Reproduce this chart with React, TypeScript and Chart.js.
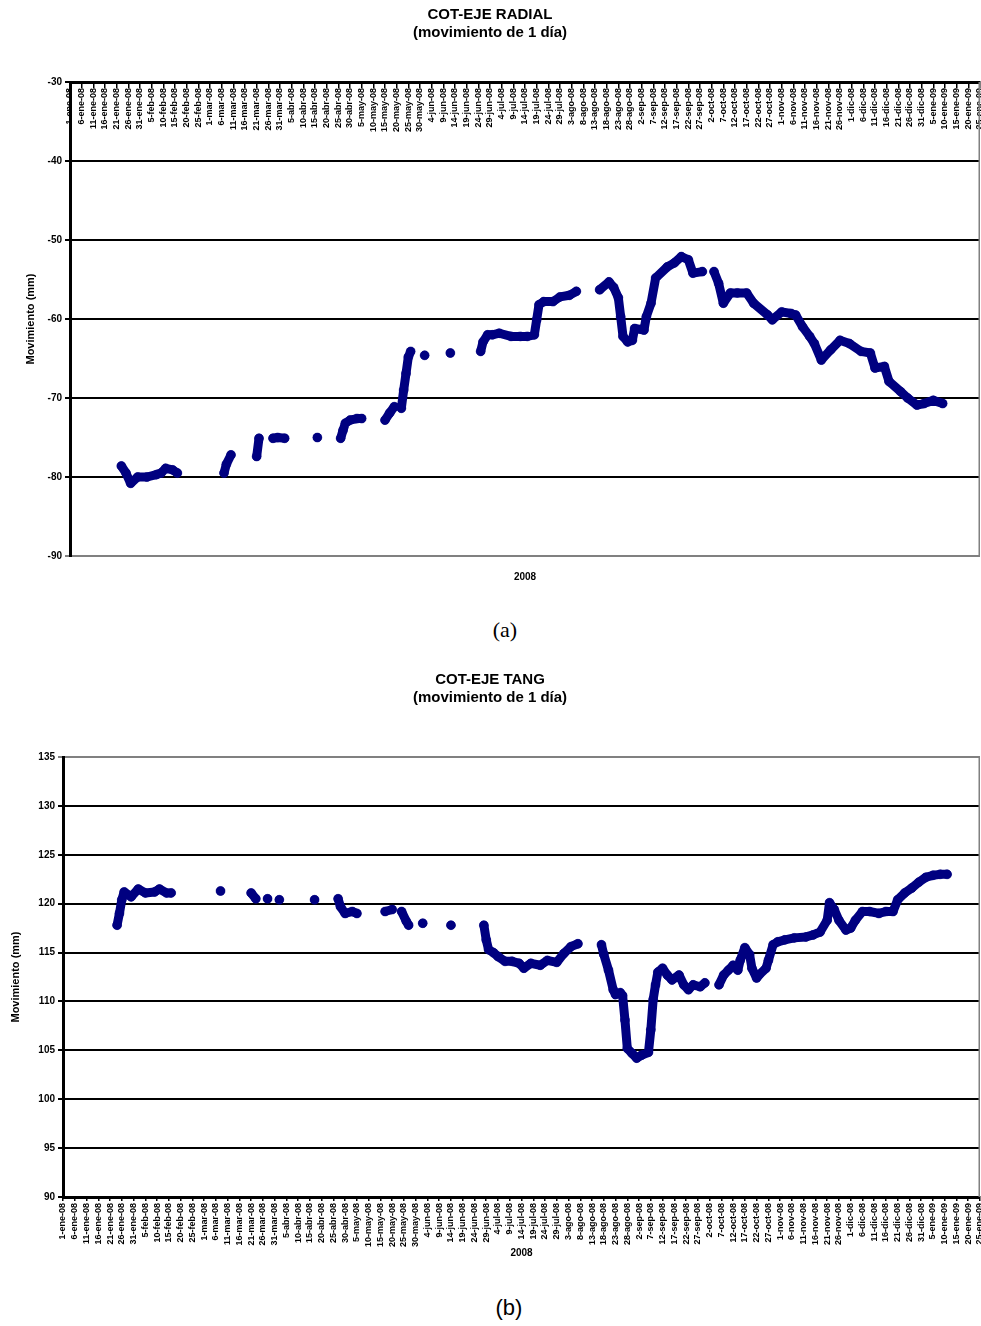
import React, { useEffect, useRef } from "react";
import { Chart, registerables } from "chart.js";

Chart.register(...registerables);

const FONT = 'Arial, "Liberation Sans", sans-serif';
const NAVY = "#000080";

// Date labels, one every 5 days of the x axis (day 0 .. 390)
const xTickLabels = [
  "1-ene-08", "6-ene-08", "11-ene-08", "16-ene-08", "21-ene-08", "26-ene-08", "31-ene-08",
  "5-feb-08", "10-feb-08", "15-feb-08", "20-feb-08", "25-feb-08",
  "1-mar-08", "6-mar-08", "11-mar-08", "16-mar-08", "21-mar-08", "26-mar-08", "31-mar-08",
  "5-abr-08", "10-abr-08", "15-abr-08", "20-abr-08", "25-abr-08", "30-abr-08",
  "5-may-08", "10-may-08", "15-may-08", "20-may-08", "25-may-08", "30-may-08",
  "4-jun-08", "9-jun-08", "14-jun-08", "19-jun-08", "24-jun-08", "29-jun-08",
  "4-jul-08", "9-jul-08", "14-jul-08", "19-jul-08", "24-jul-08", "29-jul-08",
  "3-ago-08", "8-ago-08", "13-ago-08", "18-ago-08", "23-ago-08", "28-ago-08",
  "2-sep-08", "7-sep-08", "12-sep-08", "17-sep-08", "22-sep-08", "27-sep-08",
  "2-oct-08", "7-oct-08", "12-oct-08", "17-oct-08", "22-oct-08", "27-oct-08",
  "1-nov-08", "6-nov-08", "11-nov-08", "16-nov-08", "21-nov-08", "26-nov-08",
  "1-dic-08", "6-dic-08", "11-dic-08", "16-dic-08", "21-dic-08", "26-dic-08", "31-dic-08",
  "5-ene-09", "10-ene-09", "15-ene-09", "20-ene-09", "25-ene-09",
];

// Radial axis: day index and reading (mm); null marks a gap in the record
const radialDays = [
  22, 24, 26, 29, 33, 37, 39, 41, 44, 46,
  55,
  66, 67, 69,
  74,
  80, 81,
  84,
  87, 89, 92,
  99,
  106,
  111,
  116, 117, 118, 120, 123, 125,
  130,
  135, 137, 139,
  141,
  142, 143, 144, 145, 146,
  149,
  152,
  158,
  163,
  170,
  176, 177, 179, 181, 184, 189, 193, 196, 199, 200, 201, 203, 207, 210, 214, 217,
  222,
  227, 231, 233, 235, 236, 237, 239, 241, 242, 246, 247, 249, 251, 256, 259, 262, 265, 267, 271,
  273,
  276, 278, 280, 283, 286, 290, 293, 299, 301, 305, 309, 311, 314, 317, 319, 322, 326, 330, 334, 339,
  343, 345, 349, 351, 356, 359, 363, 366, 370, 374,
];
const radialValues = [
  -78.6, -79.5, -80.8, -80.0, -80.0, -79.7, -79.5, -78.9, -79.1, -79.5,
  null,
  -79.5, -78.4, -77.2,
  null,
  -77.4, -75.1,
  null,
  -75.1, -75.0, -75.1,
  null,
  -75.0,
  null,
  -75.1, -74.1, -73.2, -72.8, -72.6, -72.6,
  null,
  -72.8, -71.9, -71.1,
  null,
  -71.3, -69.0, -66.9, -64.8, -64.1,
  null,
  -64.6,
  null,
  -64.3,
  null,
  -64.1, -62.9, -62.0, -62.0, -61.8, -62.2, -62.2, -62.2, -62.0, -60.1, -58.2, -57.8, -57.8, -57.2, -57.0, -56.5,
  null,
  -56.3, -55.3, -56.0, -57.3, -59.7, -62.2, -62.9, -62.7, -61.2, -61.4, -59.7, -58.0, -54.8, -53.4, -52.9, -52.1, -52.5, -54.2, -54.0,
  null,
  -54.0, -55.5, -58.0, -56.7, -56.7, -56.7, -58.0, -59.5, -60.1, -59.1, -59.3, -59.5, -61.0, -62.2, -63.1, -65.2, -63.9, -62.7, -63.1, -64.1,
  -64.3, -66.2, -66.0, -67.9, -69.2, -70.0, -70.9, -70.7, -70.3, -70.7,
];

// Tangential axis: day index and reading (mm); null marks a gap in the record
const tangDays = [
  23, 24, 25, 26, 29, 32, 35, 39, 41, 44, 46,
  56,
  67,
  74,
  80, 82,
  84,
  87,
  90,
  92,
  99,
  107,
  112,
  117, 118, 120, 123, 125,
  131,
  137, 140,
  142,
  144, 146, 147,
  150,
  153,
  159,
  165,
  172,
  179, 180, 181, 183, 185, 188, 191, 194, 196, 199, 203, 206, 210, 213, 216, 219,
  224,
  229, 230, 232, 234, 235, 237, 238, 239, 240, 242, 244, 246, 249, 250, 251, 252, 253, 255, 257, 259,
  262, 264, 266, 268, 271, 273,
  276,
  279, 281, 283, 285, 287, 288, 290, 292, 293, 295, 296, 299, 300, 302, 304, 307, 311, 316, 319, 322,
  325, 326, 328, 330, 333, 335, 337, 340, 343, 347, 350, 353, 355, 358, 361, 364, 367, 370, 373, 376,
];
const tangValues = [
  117.8, 119.0, 120.4, 121.2, 120.7, 121.5, 121.1, 121.2, 121.5, 121.1, 121.1,
  null,
  121.3,
  null,
  121.1, 120.5,
  null,
  120.5,
  null,
  120.4,
  null,
  120.4,
  null,
  120.5, 119.7, 119.0, 119.2, 119.0,
  null,
  119.2, 119.4,
  null,
  119.2, 118.2, 117.8,
  null,
  118.0,
  null,
  117.8,
  null,
  117.8, 116.3, 115.3, 115.0, 114.6, 114.1, 114.1, 113.9, 113.4, 113.9, 113.7, 114.2, 114.0, 114.9, 115.6, 115.9,
  null,
  115.8, 114.8, 113.2, 111.2, 110.7, 110.9, 110.6, 108.1, 105.2, 104.7, 104.2, 104.5, 104.8, 107.1, 110.2, 111.7, 113.0, 113.4, 112.7, 112.2,
  112.7, 111.7, 111.2, 111.7, 111.5, 111.9,
  null,
  111.7, 112.7, 113.2, 113.7, 113.2, 114.2, 115.5, 114.8, 113.4, 112.4, 112.7, 113.4, 114.2, 115.8, 116.1, 116.3, 116.5, 116.6, 116.8, 117.1,
  118.3, 120.1, 119.4, 118.3, 117.3, 117.5, 118.3, 119.2, 119.2, 119.0, 119.2, 119.2, 120.4, 121.1, 121.6, 122.2, 122.7, 122.9, 123.0, 123.0,
];

const DAY_MIN = 0;
const DAY_MAX = 390;
const DAY_STEP = 5;

const zip = (days: number[], values: (number | null)[]) =>
  days.map((d, i) => ({ x: d, y: values[i] }));

// Grey frame on the right edge of the plot area
const plotFrame = {
  id: "plotFrame",
  beforeDatasetsDraw(chart: any) {
    const { ctx, chartArea: a } = chart;
    ctx.save();
    ctx.strokeStyle = "#808080";
    ctx.lineWidth = 1.5;
    ctx.beginPath();
    ctx.moveTo(a.right - 0.75, a.top);
    ctx.lineTo(a.right - 0.75, a.bottom);
    ctx.stroke();
    ctx.restore();
  },
};

const boldFont = (size: number) => ({ family: FONT, size, weight: "bold" as const });

function seriesDataset(days: number[], values: (number | null)[]) {
  return {
    data: zip(days, values),
    borderColor: NAVY,
    backgroundColor: NAVY,
    borderWidth: 9,
    borderCapStyle: "round" as const,
    borderJoinStyle: "round" as const,
    pointRadius: 4.5,
    pointBorderWidth: 0.5,
    pointBackgroundColor: NAVY,
    pointBorderColor: NAVY,
    spanGaps: false,
    tension: 0,
  };
}

const xTicks = {
  stepSize: DAY_STEP,
  autoSkip: false,
  minRotation: 90,
  maxRotation: 90,
  padding: 2,
  color: "#000",
  font: boldFont(9),
  callback: (v: number) => xTickLabels[Math.round(v / DAY_STEP)] ?? "",
};

const noPadding = (s: any) => {
  s.paddingLeft = 0;
  s.paddingRight = 0;
};

function yScale(min: number, max: number, step: number, greyValue: number, width: number, titlePad: number) {
  return {
    type: "linear" as const,
    min,
    max,
    ticks: { stepSize: step, color: "#000", font: boldFont(10), padding: 3 },
    grid: {
      color: (c: any) => (c.tick && c.tick.value === greyValue ? "#808080" : "#000"),
      lineWidth: 2,
      tickLength: 5,
    },
    border: { color: "#000", width: 3 },
    title: {
      display: true,
      text: "Movimiento (mm)",
      color: "#000",
      font: boldFont(11),
      padding: { top: titlePad, bottom: 0 },
    },
    afterFit(s: any) {
      s.width = width;
    },
  };
}

function baseOptions(title: string, subPad: number) {
  return {
    responsive: false,
    animation: false as const,
    layout: { autoPadding: false, padding: { left: 0, right: 1, top: 0, bottom: 0 } },
    plugins: {
      legend: { display: false },
      tooltip: { enabled: false },
      title: {
        display: true,
        text: title,
        color: "#000",
        font: boldFont(15),
        padding: { top: 6, bottom: 0 },
      },
      subtitle: {
        display: true,
        text: "(movimiento de 1 día)",
        color: "#000",
        font: boldFont(15),
        padding: { top: 0, bottom: subPad },
      },
    },
  };
}

function RadialChart() {
  const ref = useRef<HTMLCanvasElement>(null);
  useEffect(() => {
    if (!ref.current) return;
    const chart = new Chart(ref.current, {
      type: "line",
      data: { datasets: [seriesDataset(radialDays, radialValues)] },
      plugins: [plotFrame],
      options: {
        ...baseOptions("COT-EJE RADIAL", 40),
        scales: {
          x: {
            type: "linear",
            min: DAY_MIN,
            max: DAY_MAX,
            position: { y: -30 },
            ticks: xTicks,
            grid: { drawOnChartArea: false, drawTicks: true, tickLength: 4, color: "#000", lineWidth: 1.5 },
            border: { display: true, color: "#000", width: 3 },
            afterFit: noPadding,
          },
          x2: {
            type: "linear",
            position: "bottom",
            ticks: { display: false },
            grid: { display: false },
            border: { display: false },
            title: { display: true, text: "2008", color: "#000", font: boldFont(10), padding: 17 },
            afterFit(s: any) {
              s.height = 44;
              noPadding(s);
            },
          },
          y: yScale(-90, -30, 10, -90, 70, 24),
        },
      } as any,
    });
    return () => chart.destroy();
  }, []);
  return <canvas ref={ref} width={981} height={600} style={{ display: "block" }} />;
}

function TangChart() {
  const ref = useRef<HTMLCanvasElement>(null);
  useEffect(() => {
    if (!ref.current) return;
    const chart = new Chart(ref.current, {
      type: "line",
      data: { datasets: [seriesDataset(tangDays, tangValues)] },
      plugins: [plotFrame],
      options: {
        ...baseOptions("COT-EJE TANG", 50),
        scales: {
          x: {
            type: "linear",
            min: DAY_MIN,
            max: DAY_MAX,
            position: "bottom",
            ticks: xTicks,
            grid: { drawOnChartArea: false, drawTicks: true, tickLength: 4, color: "#000", lineWidth: 1.5 },
            border: { display: true, color: "#000", width: 3 },
            title: { display: true, text: "2008", color: "#000", font: boldFont(10), padding: 6 },
            afterFit(s: any) {
              s.height = 68;
              noPadding(s);
            },
          },
          y: yScale(90, 135, 5, 135, 63, 9),
        },
      } as any,
    });
    return () => chart.destroy();
  }, []);
  return <canvas ref={ref} width={981} height={600} style={{ display: "block" }} />;
}

export default function App() {
  return (
    <div style={{ position: "absolute", left: 0, top: 0, width: 981, height: 1326, background: "#fff" }}>
      <div style={{ position: "absolute", left: 0, top: 0 }}>
        <RadialChart />
      </div>
      <div
        style={{
          position: "absolute",
          left: 0,
          width: 1010,
          top: 616,
          textAlign: "center",
          fontFamily: '"Liberation Serif", "Times New Roman", serif',
          fontSize: 22,
          lineHeight: "28px",
        }}
      >
        (a)
      </div>
      <div style={{ position: "absolute", left: 0, top: 665 }}>
        <TangChart />
      </div>
      <div
        style={{
          position: "absolute",
          left: 0,
          width: 1018,
          top: 1294,
          textAlign: "center",
          fontFamily: FONT,
          fontSize: 22,
          lineHeight: "28px",
        }}
      >
        (b)
      </div>
    </div>
  );
}
